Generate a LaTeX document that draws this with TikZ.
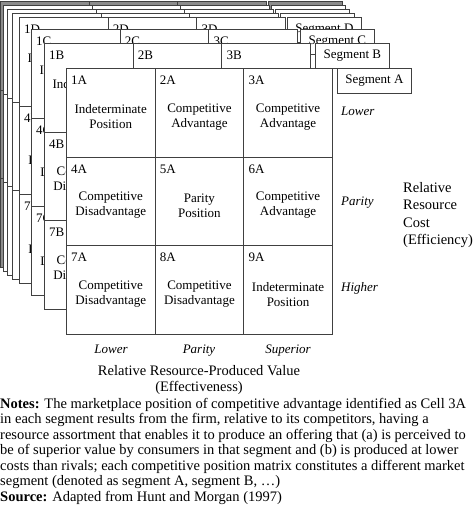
\documentclass[tikz,border=0pt]{standalone}
\usepackage{fontspec}
\setmainfont{Liberation Serif}

\tikzset{
  cell/.style={draw=black!75,line width=0.8pt,fill=white,anchor=north west,
    minimum width=88.67pt,minimum height=88.67pt,inner sep=0pt},
  cellnum/.style={anchor=base west,inner sep=0pt,font=\fontsize{13}{15}\selectfont},
  celltxt/.style={align=center,inner sep=0pt,font=\fontsize{13}{15}\selectfont},
  segbox/.style={draw=black!75,line width=0.8pt,fill=white,anchor=north west,
    minimum width=74pt,minimum height=25pt,inner sep=0pt,font=\fontsize{13}{15}\selectfont},
  axislab/.style={inner sep=0pt,font=\fontsize{13}{15}\selectfont\itshape},
  bigtxt/.style={inner sep=0pt,font=\fontsize{14.5}{17.5}\selectfont}
}

% an empty matrix of the stack, seen only at its edges
\newcommand{\backlayer}[4]{%
  \foreach \n/\c/\r in {1/0/0,2/1/0,3/2/0,4/0/1,5/1/1,6/2/1,7/0/2,8/1/2,9/2/2} {
    \node[cell,fill=#4] (#3\n) at ({#1+\c*88.67},{#2+\r*88.67}) {};
  }
  \node[segbox,fill=#4] (seg#3) at ({#1+268},#2) {};
}

% one competitive position matrix with its segment tab
\newcommand{\seglayer}[4]{%
  \foreach \n/\c/\r/\txt in {1/0/0/{Indeterminate\\Position},2/1/0/{Competitive\\Advantage},
      3/2/0/{Competitive\\Advantage},4/0/1/{Competitive\\Disadvantage},5/1/1/{Parity\\Position},
      6/2/1/{Competitive\\Advantage},7/0/2/{Competitive\\Disadvantage},8/1/2/{Competitive\\Disadvantage},
      9/2/2/{Indeterminate\\Position}} {
    \node[cell] (#3\n) at ({#1+\c*88.67},{#2+\r*88.67}) {};
    \node[cellnum] (#3\n num) at ([shift={(5,16.6)}]#3\n.north west) {\n#3};
    \node[celltxt] (#3\n txt) at ([shift={(0,4)}]#3\n.center) {\txt};
  }
  \node[segbox] (seg#3) at ({#1+266+#4},#2) {Segment #3};
}

\begin{document}
\begin{tikzpicture}[x=1pt,y=-1pt]
  \useasboundingbox (0,0) rectangle (474,527);

  % the stack of segments, back to front
  \backlayer{0}{1}{H}{black!45}
  \backlayer{3}{5}{G}{white}
  \backlayer{7}{9}{F}{white}
  \backlayer{12}{13}{E}{white}
  \seglayer{19}{17}{D}{2}
  \seglayer{31}{29}{C}{3}
  \seglayer{44}{43}{B}{5}
  \seglayer{66}{68}{A}{5}

  % axes
  \foreach \x/\lab [count=\i] in {111/Lower,199/Parity,288/Superior} {
    \node[axislab,anchor=base] (val\i) at (\x,353) {\lab};
  }
  \foreach \y/\lab [count=\i] in {115.5/Lower,205.5/Parity,291.5/Higher} {
    \node[axislab,anchor=base west] (cost\i) at (341,\y) {\lab};
  }
  \node[bigtxt,align=center,anchor=north,font=\fontsize{14.5}{16}\selectfont]
    (valtitle) at (199,365) {Relative Resource-Produced Value\\(Effectiveness)};
  \node[bigtxt,align=left,anchor=north west] (costtitle) at (403,182)
    {Relative\\Resource\\Cost\\(Efficiency)};

  % notes under the figure
  \node[bigtxt,align=left,anchor=north west,font=\fontsize{14.5}{15.5}\selectfont]
    (notes) at (0,397.7)
    {\textbf{Notes:} The marketplace position of competitive advantage identified as Cell 3A\\
     in each segment results from the firm, relative to its competitors, having a\\
     resource assortment that enables it to produce an offering that (a) is perceived to\\
     be of superior value by consumers in that segment and (b) is produced at lower\\
     costs than rivals; each competitive position matrix constitutes a different market\\
     segment (denoted as segment A, segment B, \dots)\\
     \textbf{Source:} Adapted from Hunt and Morgan (1997)};
\end{tikzpicture}
\end{document}
